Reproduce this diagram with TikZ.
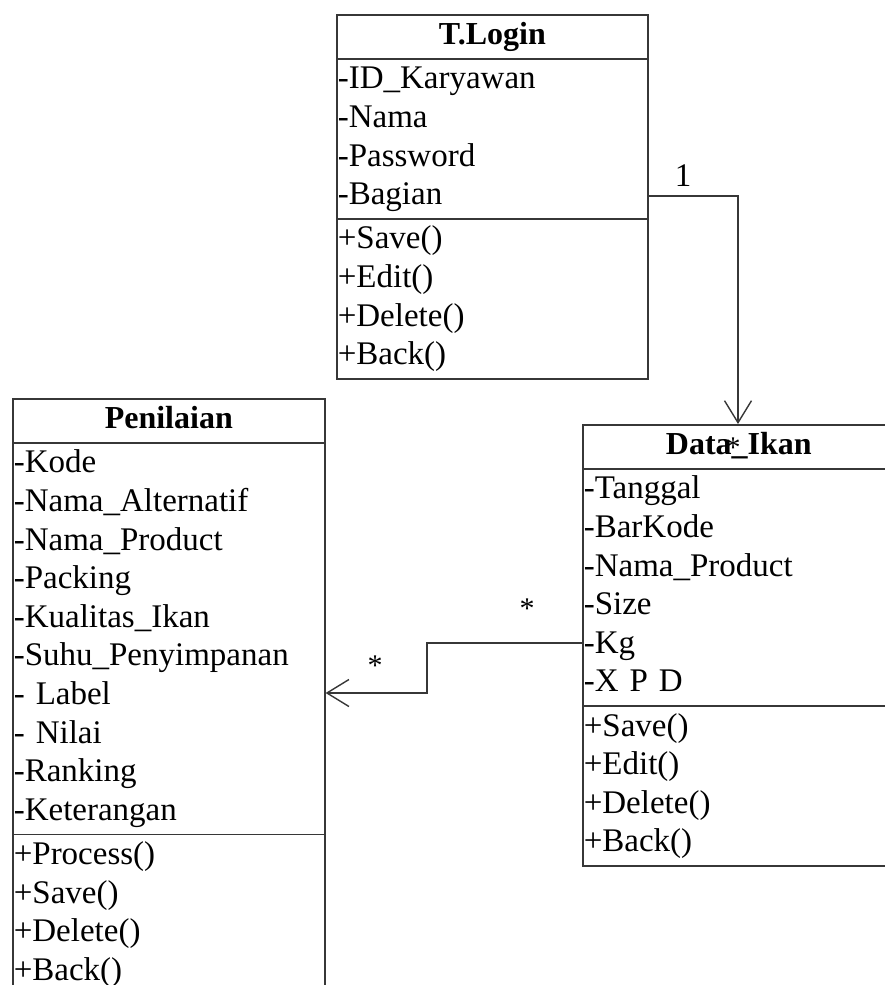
\documentclass[tikz,border=0pt]{standalone}
\usepackage{fontspec}
\setmainfont{Liberation Serif}
\usetikzlibrary{shapes.multipart, arrows.meta, positioning, calc}
\definecolor{linegray}{RGB}{55, 55, 55}
\newcommand{\umlfont}{\fontsize{33}{38.6}\selectfont}
\newcommand{\umltitle}[1]{\makebox[\linewidth]{\fontsize{32}{38.6}\selectfont\bfseries #1}\strut}

\begin{document}
\begin{tikzpicture}[
  x=1pt, y=-1pt,
  cls/.style={draw=linegray, line width=1.6pt, rectangle split, rectangle split parts=3, anchor=north west, inner xsep=1pt, inner ysep=2pt, align=left, font=\umlfont},
  arr/.style={-{Straight Barb[length=22pt, width=27pt, line width=1.4pt]}, line width=1.5pt, draw=linegray},
  mult/.style={font=\fontsize{30}{32}\selectfont, inner sep=0pt},
]
  \clip (0,0) rectangle (885,985);

  \node[cls, text width=309pt] (tlogin) at (336,14) {\umltitle{T.Login}
    \nodepart{two} \strut-ID\_Karyawan\\ \strut-Nama\\ \strut-Password\\ \strut-Bagian
    \nodepart{three} \strut+Save()\\ \strut+Edit()\\ \strut+Delete()\\ \strut+Back()};

  \node[cls, text width=310pt] (penilaian) at (12,398) {\umltitle{Penilaian}
    \nodepart{two} \strut-Kode\\ \strut-Nama\_Alternatif\\ \strut-Nama\_Product\\ \strut-Packing\\ \strut-Kualitas\_Ikan\\
      \strut-Suhu\_Penyimpanan\\ \strut- Label\\ \strut- Nilai\\ \strut-Ranking\\ \strut-Keterangan
    \nodepart{three} \strut+Process()\\ \strut+Save()\\ \strut+Delete()\\ \strut+Back()};

  \node[cls, text width=310pt] (dataikan) at (582,424) {\umltitle{Data\_Ikan}
    \nodepart{two} \strut-Tanggal\\ \strut-BarKode\\ \strut-Nama\_Product\\ \strut-Size\\ \strut-Kg\\ \strut-X P D
    \nodepart{three} \strut+Save()\\ \strut+Edit()\\ \strut+Delete()\\ \strut+Back()};

  % T.Login -> Data_Ikan
  \coordinate (k1) at (738,196);
  \draw[arr] (tlogin.east |- k1) -- (k1) -- (dataikan.north -| k1);
  \node[font=\umlfont, inner sep=0pt] (m1) at (683,176) {1};
  \node[mult] (m2) at (733,448) {*};

  % Data_Ikan -> Penilaian
  \coordinate (k2) at (427,643);
  \coordinate (k3) at (427,693);
  \draw[arr] (dataikan.west |- k2) -- (k2) -- (k3) -- (penilaian.east |- k3);
  \node[mult] (m3) at (527,609) {*};
  \node[mult] (m4) at (375,666) {*};
\end{tikzpicture}
\end{document}
